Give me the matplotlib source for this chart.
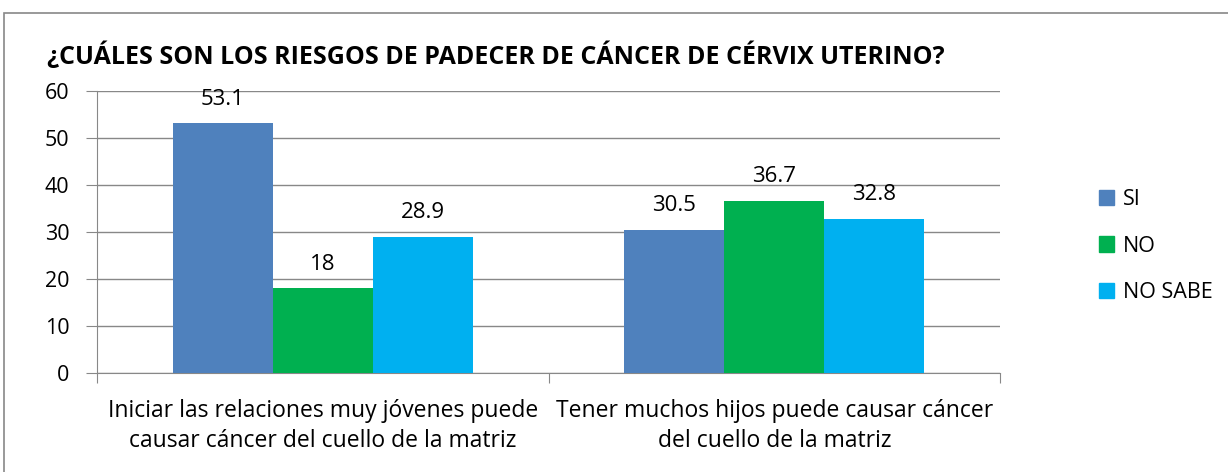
import matplotlib.pyplot as plt
import matplotlib.patches as mpatches
import numpy as np

# data
categories = ['Iniciar las relaciones muy jóvenes puede\ncausar cáncer del cuello de la matriz',
              'Tener muchos hijos puede causar cáncer\ndel cuello de la matriz']
series_names = ['SI', 'NO', 'NO SABE']
si_vals = [53.1, 30.5]
no_vals = [18, 36.7]
nosabe_vals = [28.9, 32.8]
colors = ['#4F81BD', '#00B050', '#00B0F0']
title = '¿CUÁLES SON LOS RIESGOS DE PADECER DE CÁNCER DE CÉRVIX UTERINO?'

plt.rcParams['font.family'] = ['Open Sans', 'DejaVu Sans']

fig = plt.figure(figsize=(12.28, 4.72), dpi=100)
ax = fig.add_axes([97/1228, 1 - 373/472, 903/1228, 282/472])

# outer chart frame
frame = mpatches.Rectangle((4/1228, -0.1), 1.2, 1.1 - 13/472, transform=fig.transFigure,
                           fill=False, edgecolor='#888888', linewidth=1.2)
fig.patches.append(frame)

x = np.arange(len(categories))
w = 0.2215
all_vals = [si_vals, no_vals, nosabe_vals]
for i, (vals, name, c) in enumerate(zip(all_vals, series_names, colors)):
    bars = ax.bar(x + (i - 1) * w, vals, w, color=c, label=name, zorder=3)
    for b, v in zip(bars, vals):
        ax.text(b.get_x() + b.get_width() / 2, v + 4.0, f'{v:g}', ha='center', va='baseline',
                fontsize=16)

ax.set_xlim(-0.5, 1.5)
ax.set_ylim(0, 60)
ax.set_yticks(range(0, 61, 10))
ax.yaxis.grid(True, color='#888888', linewidth=1, zorder=0)
ax.set_xticks([-0.5, 0.5, 1.5])
ax.set_xticklabels([])
ax.set_xticks(x, minor=True)
ax.set_xticklabels(categories, minor=True, fontsize=16.5, linespacing=1.3)
ax.tick_params(axis='x', which='minor', length=0, pad=19)
ax.tick_params(axis='x', which='major', length=7, color='#888888')
ax.tick_params(axis='y', length=8, color='#888888', labelsize=15.5, pad=12)
for s in ['top', 'right']:
    ax.spines[s].set_visible(False)
for s in ['left', 'bottom']:
    ax.spines[s].set_color('#888888')

fig.text(47/1228, 1 - 56/472, title, fontsize=18, fontweight='bold', va='center', ha='left')

handles = [mpatches.Patch(color=c) for c in colors]
fig.legend(handles, series_names, loc='center left', bbox_to_anchor=(1080/1228, 1 - 246/472),
           frameon=False, fontsize=15.5, handlelength=0.7, handleheight=0.7, handletextpad=0.4,
           labelspacing=1.2)

fig.savefig('out.png', dpi=100)
